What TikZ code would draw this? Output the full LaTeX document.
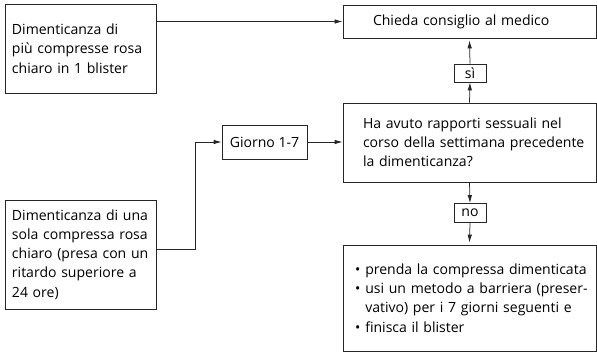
\documentclass[tikz,border=0pt]{standalone}
\usepackage{fontspec}
\setmainfont{Open Sans}
\usetikzlibrary{arrows.meta}
\begin{document}
\begin{tikzpicture}[x=1bp,y=-1bp,
  box/.style={draw=black!85, line width=0.75pt, inner sep=0pt, font=\fontsize{14.1}{19.3}\selectfont},
  tag/.style={draw=black!85, line width=0.75pt, inner sep=0pt, font=\fontsize{14.1}{15}\selectfont},
  arr/.style={draw=black!85, line width=0.75pt, -{Latex[length=8pt,width=4.5pt]}}]
\useasboundingbox (0,0) rectangle (597,352);
\node[box, minimum width=151bp, minimum height=89bp, text width=137bp, align=left] (A) at (80.5,48.5)
  {Dimenticanza di\\più compresse rosa\\chiaro in 1 blister};
\node[box, minimum width=253bp, minimum height=33bp, text width=193bp, align=left] (C) at (469.5,21.5)
  {Chieda consiglio al medico};
\node[tag, minimum width=32bp, minimum height=18bp] (si) at (470,73) {sì};
\node[box, minimum width=253bp, minimum height=79bp, text width=213bp, align=left] (Q) at (469.5,142.5)
  {\mbox{Ha avuto rapporti sessuali nel}\\\mbox{corso della settimana precedente}\\\mbox{la dimenticanza?}};
\node[box, minimum width=85bp, minimum height=34bp] (G) at (264.5,142) {Giorno 1-7};
\node[box, minimum width=151bp, minimum height=109bp, text width=137bp, align=left] (B) at (80.5,254.5)
  {Dimenticanza di una\\sola compressa rosa\\chiaro (presa con un\\ritardo superiore a\\24 ore)};
\node[box, minimum width=253bp, minimum height=106bp, text width=229bp, align=left] (D) at (469.5,298)
  {\mbox{\textbullet\hspace{5pt}prenda la compressa dimenticata}\\
   \mbox{\textbullet\hspace{5pt}usi un metodo a barriera (preser-}\\
   \mbox{\phantom{\textbullet}\hspace{5pt}vativo) per i 7 giorni seguenti e}\\
   \mbox{\textbullet\hspace{5pt}finisca il blister}\\[12pt]};
\node[tag, minimum width=32bp, minimum height=19bp] (no) at (470,213) {no};
\draw[arr] (A.east |- C.west) -- (C.west);
\draw[arr] (Q.north) -- (si.south);
\draw[arr] (si.north) -- ([yshift=-2bp]C.south);
\draw[arr] (Q.south) -- (no.north);
\draw[arr] (no.south) -- ([yshift=2bp]D.north);
\coordinate (bend) at (195,249);
\draw[arr] (B.east |- bend) -- (bend) |- (G.west);
\draw[arr] (G.east) -- (Q.west |- G.east);
\end{tikzpicture}
\end{document}
